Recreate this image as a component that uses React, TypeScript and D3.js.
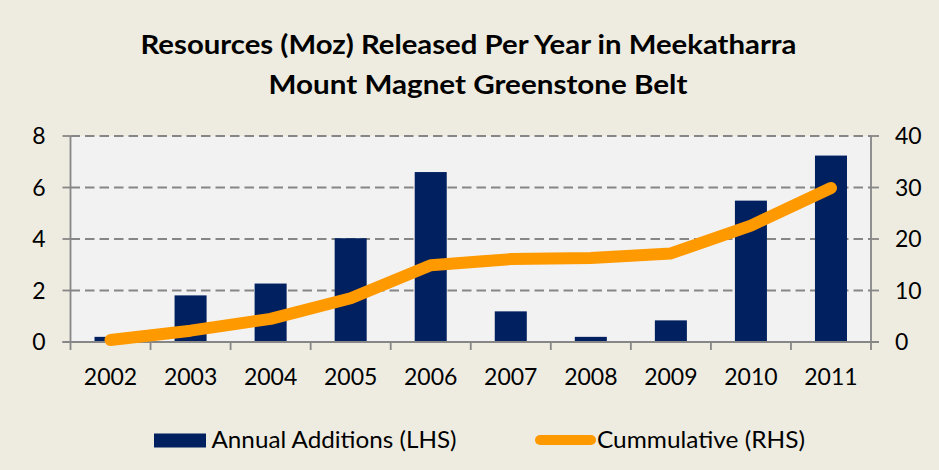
import React from "react";
import * as d3 from "d3";

const years = ["2002", "2003", "2004", "2005", "2006", "2007", "2008", "2009", "2010", "2011"];
const annualAdditions = [0.2, 1.81, 2.27, 4.03, 6.6, 1.19, 0.2, 0.84, 5.49, 7.24];
const cumulative = [0.4, 2.2, 4.5, 8.5, 14.9, 16.1, 16.3, 17.2, 22.6, 29.9];
const leftTicks = [0, 2, 4, 6, 8];
const rightTicks = [0, 10, 20, 30, 40];
const titleLines = ["Resources (Moz) Released Per Year in Meekatharra", "Mount Magnet Greenstone Belt"];
const legendLabels = ["Annual Additions (LHS)", "Cummulative (RHS)"];

const W = 939;
const H = 470;
const FONT = "Lato, 'Open Sans', sans-serif";

export default function App() {
  const left = 70.5;
  const right = 871;
  const top = 136;
  const bottom = 342;

  const x = d3.scaleBand<string>().domain(years).range([left, right]).paddingInner(0.6).paddingOuter(0.3);
  const xEdges = d3.scaleBand<string>().domain(years).range([left, right]).padding(0);
  const yL = d3.scaleLinear().domain([0, 8]).range([bottom, top]);
  const yR = d3.scaleLinear().domain([0, 40]).range([bottom, top]);

  const line = d3
    .line<number>()
    .x((_, i) => (x(years[i]) as number) + x.bandwidth() / 2)
    .y((d) => yR(d));

  const axisColor = "#868686";

  return (
    <svg width={W} height={H} style={{ position: "absolute", left: 0, top: 0 }} fontFamily={FONT}>
      <rect x={0} y={0} width={W} height={H} fill="#eeece1" />
      {/* Title */}
      <text
        x={140.5}
        y={53.5}
        fontSize={26.5}
        fontWeight={700}
        fill="#000"
        textLength={656}
        lengthAdjust="spacingAndGlyphs"
      >
        {titleLines[0]}
      </text>
      <text
        x={268.5}
        y={93.5}
        fontSize={26.5}
        fontWeight={700}
        fill="#000"
        textLength={419}
        lengthAdjust="spacingAndGlyphs"
      >
        {titleLines[1]}
      </text>

      {/* Plot area */}
      <rect x={left} y={top} width={right - left} height={bottom - top} fill="#f2f2f2" />

      {/* Gridlines */}
      {leftTicks
        .filter((t) => t > 0)
        .map((t) => (
          <line
            key={"g" + t}
            x1={left}
            x2={right}
            y1={yL(t)}
            y2={yL(t)}
            stroke={axisColor}
            strokeWidth={1.8}
            strokeDasharray="9.5,5"
          />
        ))}

      {/* Bars */}
      {annualAdditions.map((v, i) => (
        <rect
          key={"b" + i}
          x={x(years[i])}
          y={yL(v)}
          width={x.bandwidth()}
          height={bottom - yL(v)}
          fill="#002060"
        />
      ))}

      {/* Axes */}
      <line x1={left} x2={left} y1={top} y2={bottom} stroke={axisColor} strokeWidth={1.8} />
      <line x1={right} x2={right} y1={top} y2={bottom} stroke={axisColor} strokeWidth={1.8} />
      <line x1={left - 8} x2={right + 8} y1={bottom} y2={bottom} stroke={axisColor} strokeWidth={1.8} />
      {leftTicks.map((t) => (
        <line key={"lt" + t} x1={left - 8} x2={left} y1={yL(t)} y2={yL(t)} stroke={axisColor} strokeWidth={1.8} />
      ))}
      {rightTicks.map((t) => (
        <line key={"rt" + t} x1={right} x2={right + 8} y1={yR(t)} y2={yR(t)} stroke={axisColor} strokeWidth={1.8} />
      ))}
      {years.map((yr) => (
        <line
          key={"xt" + yr}
          x1={xEdges(yr)}
          x2={xEdges(yr)}
          y1={bottom}
          y2={bottom + 8}
          stroke={axisColor}
          strokeWidth={1.8}
        />
      ))}
      <line x1={right} x2={right} y1={bottom} y2={bottom + 8} stroke={axisColor} strokeWidth={1.8} />

      {/* Cumulative line */}
      <path
        d={line(cumulative) || ""}
        fill="none"
        stroke="#ff9900"
        strokeWidth={12}
        strokeLinecap="round"
        strokeLinejoin="round"
      />

      {/* Tick labels */}
      {leftTicks.map((t) => (
        <text key={"ll" + t} x={45.5} y={yL(t)} dy="0.36em" textAnchor="end" fontSize={23} fill="#000">
          {t}
        </text>
      ))}
      {rightTicks.map((t) => (
        <text key={"rl" + t} x={895} y={yR(t)} dy="0.36em" textAnchor="start" fontSize={23} fill="#000">
          {t}
        </text>
      ))}
      {years.map((yr) => (
        <text
          key={"xl" + yr}
          x={(x(yr) as number) + x.bandwidth() / 2}
          y={384.5}
          textAnchor="middle"
          fontSize={23}
          fill="#000"
        >
          {yr}
        </text>
      ))}

      {/* Legend */}
      <rect x={154} y={433.5} width={52} height={14} fill="#002060" />
      <text x={211.5} y={447.7} fontSize={23} fill="#000" textLength={245} lengthAdjust="spacingAndGlyphs">
        {legendLabels[0]}
      </text>
      <line x1={540} x2={591} y1={440} y2={440} stroke="#ff9900" strokeWidth={10} strokeLinecap="round" />
      <text x={597} y={447.7} fontSize={23} fill="#000" textLength={208} lengthAdjust="spacingAndGlyphs">
        {legendLabels[1]}
      </text>
    </svg>
  );
}
